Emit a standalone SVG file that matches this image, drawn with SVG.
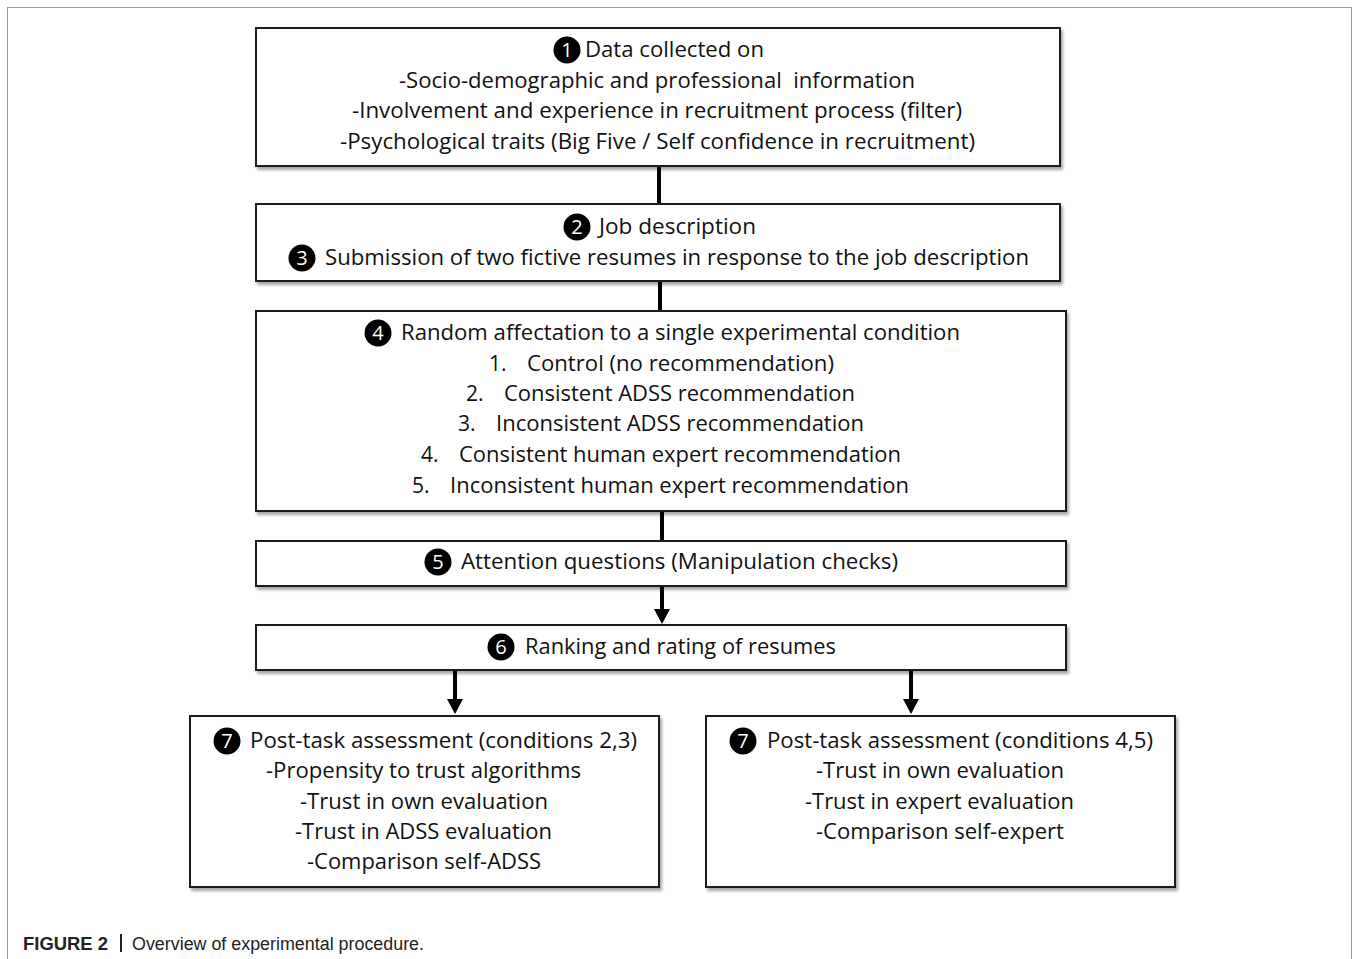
<svg xmlns="http://www.w3.org/2000/svg" width="1354" height="959" viewBox="0 0 1354 959">
<style>
.box{fill:#fff;stroke:#1a1a1a;stroke-width:2;filter:url(#sh)}
.t{font-family:"Open Sans","Liberation Sans",sans-serif;font-size:21px;fill:#111}
.n{font-family:"Open Sans","Liberation Sans",sans-serif;font-size:20px;fill:#fff;text-anchor:middle}
.c{fill:#000}
.ln{stroke:#000;stroke-width:4;fill:none}
.cap{font-family:"Liberation Sans",Arial,sans-serif;font-size:18px;fill:#222}
</style>
<defs>
<filter id="sh" x="-5%" y="-10%" width="115%" height="130%">
<feDropShadow dx="2" dy="3" stdDeviation="1.8" flood-color="#000" flood-opacity="0.35"/>
</filter>
</defs>
<rect x="7.5" y="7.5" width="1344" height="1000" fill="#fff" stroke="#9a9a9a" stroke-width="1"/>

<g id="connectors">
<line class="ln" x1="659" y1="166" x2="659" y2="204"/>
<line class="ln" x1="660" y1="281" x2="660" y2="311"/>
<line class="ln" x1="662" y1="511" x2="662" y2="541"/>
<line class="ln" x1="662" y1="586" x2="662" y2="610"/>
<path d="M654,609 L670,609 L662,624 Z" fill="#000"/>
<line class="ln" x1="455" y1="670" x2="455" y2="700"/>
<path d="M447,699 L463,699 L455,714 Z" fill="#000"/>
<line class="ln" x1="911" y1="670" x2="911" y2="700"/>
<path d="M903,699 L919,699 L911,714 Z" fill="#000"/>
</g>

<g id="node1">
<rect class="box" x="256" y="28" width="804" height="138"/>
<circle class="c" cx="567" cy="50" r="13.5"/><text class="n" x="567" y="57">1</text>
<text class="t" x="585" y="57" textLength="179" lengthAdjust="spacingAndGlyphs">Data collected on</text>
<text class="t" x="399" y="88" textLength="516" lengthAdjust="spacingAndGlyphs" xml:space="preserve">-Socio-demographic and professional  information</text>
<text class="t" x="352" y="118" textLength="610" lengthAdjust="spacingAndGlyphs">-Involvement and experience in recruitment process (filter)</text>
<text class="t" x="340" y="149" textLength="635" lengthAdjust="spacingAndGlyphs">-Psychological traits (Big Five / Self confidence in recruitment)</text>
</g>

<g id="node2">
<rect class="box" x="256" y="204" width="804" height="77"/>
<circle class="c" cx="577" cy="227" r="13.5"/><text class="n" x="577" y="234">2</text>
<text class="t" x="599" y="234" textLength="157" lengthAdjust="spacingAndGlyphs">Job description</text>
<circle class="c" cx="302" cy="258" r="13.5"/><text class="n" x="302" y="265">3</text>
<text class="t" x="325" y="265" textLength="704" lengthAdjust="spacingAndGlyphs">Submission of two fictive resumes in response to the job description</text>
</g>

<g id="node3">
<rect class="box" x="256" y="311" width="810" height="200"/>
<circle class="c" cx="378" cy="333" r="13.5"/><text class="n" x="378" y="340">4</text>
<text class="t" x="401" y="340" textLength="559" lengthAdjust="spacingAndGlyphs">Random affectation to a single experimental condition</text>
<text class="t" x="489" y="371">1.</text>
<text class="t" x="527" y="371" textLength="307" lengthAdjust="spacingAndGlyphs">Control (no recommendation)</text>
<text class="t" x="466" y="401">2.</text>
<text class="t" x="504" y="401" textLength="351" lengthAdjust="spacingAndGlyphs">Consistent ADSS recommendation</text>
<text class="t" x="458" y="431">3.</text>
<text class="t" x="496" y="431" textLength="368" lengthAdjust="spacingAndGlyphs">Inconsistent ADSS recommendation</text>
<text class="t" x="421" y="462">4.</text>
<text class="t" x="459" y="462" textLength="442" lengthAdjust="spacingAndGlyphs">Consistent human expert recommendation</text>
<text class="t" x="412" y="493">5.</text>
<text class="t" x="450" y="493" textLength="459" lengthAdjust="spacingAndGlyphs">Inconsistent human expert recommendation</text>
</g>

<g id="node4">
<rect class="box" x="256" y="541" width="810" height="45"/>
<circle class="c" cx="438" cy="562" r="13.5"/><text class="n" x="438" y="569">5</text>
<text class="t" x="461" y="569" textLength="437" lengthAdjust="spacingAndGlyphs">Attention questions (Manipulation checks)</text>
</g>

<g id="node5">
<rect class="box" x="256" y="625" width="810" height="45"/>
<circle class="c" cx="501" cy="647" r="13.5"/><text class="n" x="501" y="654">6</text>
<text class="t" x="525" y="654" textLength="311" lengthAdjust="spacingAndGlyphs">Ranking and rating of resumes</text>
</g>

<g id="node6a">
<rect class="box" x="190" y="716" width="469" height="171"/>
<circle class="c" cx="227" cy="741" r="13.5"/><text class="n" x="227" y="748">7</text>
<text class="t" x="250" y="748" textLength="387" lengthAdjust="spacingAndGlyphs">Post-task assessment (conditions 2,3)</text>
<text class="t" x="266" y="778" textLength="315" lengthAdjust="spacingAndGlyphs">-Propensity to trust algorithms</text>
<text class="t" x="300" y="809" textLength="248" lengthAdjust="spacingAndGlyphs">-Trust in own evaluation</text>
<text class="t" x="295" y="839" textLength="257" lengthAdjust="spacingAndGlyphs">-Trust in ADSS evaluation</text>
<text class="t" x="307" y="869" textLength="234" lengthAdjust="spacingAndGlyphs">-Comparison self-ADSS</text>
</g>

<g id="node6b">
<rect class="box" x="706" y="716" width="469" height="171"/>
<circle class="c" cx="743" cy="741" r="13.5"/><text class="n" x="743" y="748">7</text>
<text class="t" x="767" y="748" textLength="386" lengthAdjust="spacingAndGlyphs">Post-task assessment (conditions 4,5)</text>
<text class="t" x="816" y="778" textLength="248" lengthAdjust="spacingAndGlyphs">-Trust in own evaluation</text>
<text class="t" x="805" y="809" textLength="269" lengthAdjust="spacingAndGlyphs">-Trust in expert evaluation</text>
<text class="t" x="816" y="839" textLength="248" lengthAdjust="spacingAndGlyphs">-Comparison self-expert</text>
</g>

<g id="caption">
<text class="cap" x="23" y="950" font-weight="bold" textLength="85" lengthAdjust="spacingAndGlyphs">FIGURE 2</text>
<rect x="120" y="934" width="2" height="18" fill="#222"/>
<text class="cap" x="132" y="950" textLength="292" lengthAdjust="spacingAndGlyphs">Overview of experimental procedure.</text>
</g>
</svg>
